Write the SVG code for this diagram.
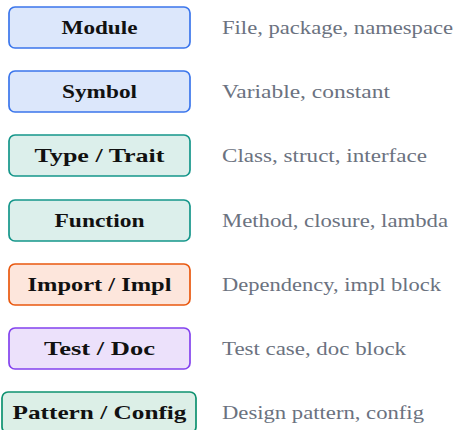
<svg xmlns="http://www.w3.org/2000/svg" width="456" height="430" viewBox="0 0 456 430">
<style>
.box{stroke-width:1.7}
.lbl{font-family:"Liberation Serif","DejaVu Serif",serif;font-weight:bold;font-size:19px;fill:#111;text-anchor:middle}
.desc{font-family:"Liberation Serif","DejaVu Serif",serif;font-size:19.5px;fill:#6b7280}
.blue{fill:#dce7fb;stroke:#3b76ec}
.teal{fill:#dcefeb;stroke:#15968a}
.orange{fill:#fde6dc;stroke:#e9580f}
.purple{fill:#ece1fb;stroke:#8342ee}
.green{fill:#dcefe7;stroke:#0e9270}
</style>
<rect width="456" height="430" fill="#fff"/>
<g id="module">
<rect class="box blue" x="9" y="7" width="181" height="41" rx="6"/>
<text class="lbl" x="99.5" y="34" textLength="76" lengthAdjust="spacingAndGlyphs">Module</text>
<text class="desc" x="222" y="34" textLength="231" lengthAdjust="spacingAndGlyphs">File, package, namespace</text>
</g>
<g id="symbol">
<rect class="box blue" x="9" y="71" width="181" height="41" rx="6"/>
<text class="lbl" x="99.5" y="98" textLength="75" lengthAdjust="spacingAndGlyphs">Symbol</text>
<text class="desc" x="222" y="98" textLength="168" lengthAdjust="spacingAndGlyphs">Variable, constant</text>
</g>
<g id="type">
<rect class="box teal" x="9" y="135" width="181" height="41" rx="6"/>
<text class="lbl" x="99.5" y="162" textLength="130" lengthAdjust="spacingAndGlyphs">Type / Trait</text>
<text class="desc" x="222" y="162" textLength="205" lengthAdjust="spacingAndGlyphs">Class, struct, interface</text>
</g>
<g id="function">
<rect class="box teal" x="9" y="200" width="181" height="41" rx="6"/>
<text class="lbl" x="99.5" y="227" textLength="90" lengthAdjust="spacingAndGlyphs">Function</text>
<text class="desc" x="222" y="227" textLength="226" lengthAdjust="spacingAndGlyphs">Method, closure, lambda</text>
</g>
<g id="import">
<rect class="box orange" x="9" y="264" width="181" height="41" rx="6"/>
<text class="lbl" x="99.5" y="291" textLength="144" lengthAdjust="spacingAndGlyphs">Import / Impl</text>
<text class="desc" x="222" y="291" textLength="219" lengthAdjust="spacingAndGlyphs">Dependency, impl block</text>
</g>
<g id="test">
<rect class="box purple" x="9" y="328" width="181" height="41" rx="6"/>
<text class="lbl" x="99.5" y="355" textLength="111" lengthAdjust="spacingAndGlyphs">Test / Doc</text>
<text class="desc" x="222" y="355" textLength="184" lengthAdjust="spacingAndGlyphs">Test case, doc block</text>
</g>
<g id="pattern">
<rect class="box green" x="2" y="392" width="194" height="41" rx="6"/>
<text class="lbl" x="99.5" y="419" textLength="174" lengthAdjust="spacingAndGlyphs">Pattern / Config</text>
<text class="desc" x="222" y="419" textLength="202" lengthAdjust="spacingAndGlyphs">Design pattern, config</text>
</g>
<g id="connectors"></g>
</svg>
